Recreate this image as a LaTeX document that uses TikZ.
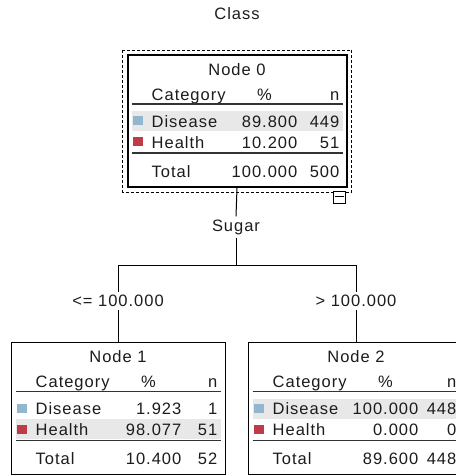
\documentclass[tikz,border=0pt]{standalone}
\usepackage{fontspec}
\setmainfont{Liberation Sans}[LetterSpace=6]
\usetikzlibrary{positioning, calc}

\definecolor{diseaseblue}{RGB}{146,182,207}
\definecolor{healthred}{RGB}{192,58,72}
\definecolor{rowgray}{RGB}{232,232,232}
\definecolor{textdark}{RGB}{28,28,28}

\tikzset{
    treebox/.style={draw=black, fill=white, line width=1, minimum width=#1, minimum height=132, inner sep=0},
    outerdash/.style={draw=black, line width=1, dash pattern=on 3pt off 2pt},
    link/.style={draw=black, line width=1},
    linklabel/.style={font=\fontsize{16.5}{18}\selectfont, text=textdark, inner sep=3},
    celltext/.style={font=\fontsize{16.5}{18}\selectfont, text=textdark, inner sep=0},
    ruleline/.style={draw=black!80, line width=1.3},
    swatch/.style={draw=none, fill=#1}
}

% table inside a tree node: box, title, disease %/n, health %/n, total %/n, top of gray band
\newcommand{\nodetable}[9]{%
    % highlighted row
    \fill[rowgray] ($(#1.north west)+(5,#9)$) rectangle ($(#1.north east)+(-5,#9+20)$);
    % title and header
    \node[celltext, anchor=base] (#1-title) at ($(#1.north)+(0,21)$) {#2};
    \node[celltext, anchor=base west] (#1-cat) at ($(#1.north west)+(25,46)$) {Category};
    \node[celltext, anchor=base] (#1-pct) at ($(#1.north west)+(138,46)$) {\%};
    \node[celltext, anchor=base east] (#1-n) at ($(#1.north east)+(-8,46)$) {n};
    \draw[ruleline] ($(#1.north west)+(5,50)$) -- ($(#1.north east)+(-5,50)$);
    % Disease row
    \fill[swatch=diseaseblue] ($(#1.north west)+(6,62)$) rectangle ($(#1.north west)+(16,71)$);
    \node[celltext, anchor=base west] (#1-dis) at ($(#1.north west)+(25,73)$) {Disease};
    \node[celltext, anchor=base east] (#1-dispct) at ($(#1.north west)+(171,73)$) {#3};
    \node[celltext, anchor=base east] (#1-disn) at ($(#1.north east)+(-8,73)$) {#4};
    % Health row
    \fill[swatch=healthred] ($(#1.north west)+(6,83)$) rectangle ($(#1.north west)+(16,92)$);
    \node[celltext, anchor=base west] (#1-hea) at ($(#1.north west)+(25,94)$) {Health};
    \node[celltext, anchor=base east] (#1-heapct) at ($(#1.north west)+(171,94)$) {#5};
    \node[celltext, anchor=base east] (#1-hean) at ($(#1.north east)+(-8,94)$) {#6};
    \draw[ruleline] ($(#1.north west)+(5,99)$) -- ($(#1.north east)+(-5,99)$);
    % Total row
    \node[celltext, anchor=base west] (#1-tot) at ($(#1.north west)+(25,123)$) {Total};
    \node[celltext, anchor=base east] (#1-totpct) at ($(#1.north west)+(171,123)$) {#7};
    \node[celltext, anchor=base east] (#1-totn) at ($(#1.north east)+(-8,123)$) {#8};
}

\begin{document}
\begin{tikzpicture}[x=1pt, y=-1pt]
    \useasboundingbox (0,0) rectangle (456,475);
    \clip (0,0) rectangle (456,475);

    % Root node
    \node[linklabel] (class) at (237,14) {Class};
    \node[treebox=219, line width=2] (n0) at (237,121) {};
    \draw[outerdash] ($(n0.north west)+(-4,-4)$) rectangle ($(n0.south east)+(4,4)$);
    \nodetable{n0}{Node 0}{89.800}{449}{10.200}{51}{100.000}{500}{57}
    % collapse icon
    \node[draw=black, fill=white, line width=1, minimum size=12, inner sep=0] (fold) at (339,197) {};
    \draw[black, line width=1] ($(fold.west)+(2,-1)$) -- ($(fold.east)+(-2,-1)$);

    % Split on Sugar
    \node[linklabel] (sugar) at (236,227) {Sugar};
    \coordinate (split) at (236,265);
    \coordinate (splitl) at (118,265);
    \coordinate (splitr) at (356,265);
    \node[linklabel] (le) at (118,301) {<= 100.000};
    \node[linklabel] (gt) at (356,301) {> 100.000};

    % Child nodes
    \node[treebox=214] (n1) at (118,408) {};
    \node[treebox=216] (n2) at (356,408) {};
    \nodetable{n1}{Node 1}{1.923}{1}{98.077}{51}{10.400}{52}{77}
    \nodetable{n2}{Node 2}{100.000}{448}{0.000}{0}{89.600}{448}{57}

    % Connectors
    \draw[link] (n0.south) -- (sugar.north);
    \draw[link] (sugar.south) -- (split);
    \draw[link] (splitl) -- (splitr);
    \draw[link] (splitl) -- (le.north);
    \draw[link] (splitr) -- (gt.north);
    \draw[link] (le.south) -- (n1.north);
    \draw[link] (gt.south) -- (n2.north);
\end{tikzpicture}
\end{document}
